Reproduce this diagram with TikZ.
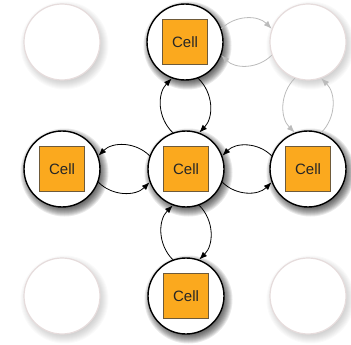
\documentclass[tikz,border=0pt]{standalone}
\usepackage{fontspec}
\setmainfont{Liberation Sans}
\usetikzlibrary{arrows.meta,calc}
\definecolor{cellfill}{HTML}{FBA91E}
\definecolor{cellline}{HTML}{6E5A3A}
\definecolor{ghostline}{HTML}{E6DCDC}
\definecolor{ghostarrow}{HTML}{BBBBBB}
\tikzset{
  site/.style={circle, draw=black, line width=1.4pt, fill=white,
    minimum size=76pt, inner sep=0pt},
  ghost/.style={circle, draw=ghostline, line width=1.2pt, fill=white,
    minimum size=76pt, inner sep=0pt},
  cellbox/.style={draw=cellline, line width=0.9pt, fill=cellfill,
    minimum size=45pt, inner sep=0pt, text=black!85,
    font=\fontsize{15}{16}\selectfont},
  link/.style={-{Latex[length=8pt,width=6pt]}, line width=0.8pt, black},
  ghostlink/.style={-{Latex[length=8pt,width=6pt]}, line width=0.8pt, ghostarrow},
}
% soft drop shadow: stacked translucent discs
\newcommand{\softshadow}[2]{%
  \foreach \rr in {44,43,...,35}
    \fill[black, opacity=#2] ($(#1)+(2.5,3.5)$) circle (\rr);}
\begin{document}
\begin{tikzpicture}[x=1pt,y=-1pt]
\useasboundingbox (0,0) rectangle (351,345);
\coordinate (pg11) at (62,42);
\coordinate (pg13) at (308,42);
\coordinate (pg31) at (62,296);
\coordinate (pg33) at (308,296);
\coordinate (ptop) at (185,42);
\coordinate (pmid) at (186,169);
\coordinate (plft) at (62,169);
\coordinate (prgt) at (308,169);
\coordinate (pbot) at (186,296);
% shadows
\foreach \p in {pg11,pg13,pg31,pg33} {\softshadow{\p}{0.018}}
\foreach \p in {ptop,pmid,plft,prgt,pbot} {\softshadow{\p}{0.085}}
% inactive sites
\node[ghost] (g11) at (pg11) {};
\node[ghost] (g13) at (pg13) {};
\node[ghost] (g31) at (pg31) {};
\node[ghost] (g33) at (pg33) {};
% active sites
\node[site] (top) at (ptop) {};
\node[site] (mid) at (pmid) {};
\node[site] (lft) at (plft) {};
\node[site] (rgt) at (prgt) {};
\node[site] (bot) at (pbot) {};
% cells
\node[cellbox] (ctop) at (top) {Cell};
\node[cellbox] (cmid) at (mid) {Cell};
\node[cellbox] (clft) at (lft) {Cell};
\node[cellbox] (crgt) at (rgt) {Cell};
\node[cellbox] (cbot) at (bot) {Cell};
% exchanges between neighbouring sites
\draw[link] (mid.110) to[bend left=45] (top.250);
\draw[link] (top.290) to[bend left=45] (mid.70);
\draw[link] (mid.160) to[bend right=45] (lft.20);
\draw[link] (lft.340) to[bend right=45] (mid.200);
\draw[link] (rgt.160) to[bend right=45] (mid.20);
\draw[link] (mid.340) to[bend right=45] (rgt.200);
\draw[link] (bot.110) to[bend left=45] (mid.250);
\draw[link] (mid.290) to[bend left=45] (bot.70);
% exchanges towards empty sites
\draw[ghostlink] (top.20) to[bend left=45] (g13.160);
\draw[ghostlink] (g13.200) to[bend left=45] (top.340);
\draw[ghostlink] (g13.250) to[bend right=45] (rgt.110);
\draw[ghostlink] (rgt.70) to[bend right=45] (g13.290);
\end{tikzpicture}
\end{document}
